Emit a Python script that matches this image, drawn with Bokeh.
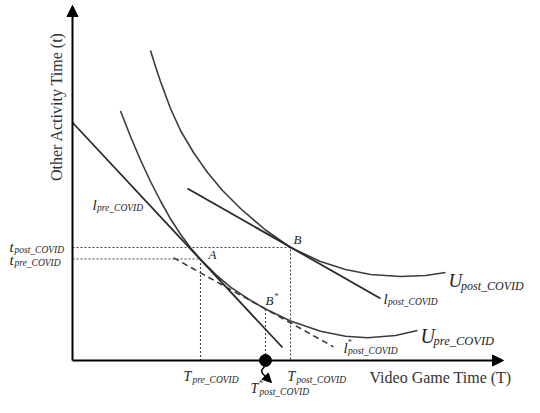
from bokeh.plotting import figure
from bokeh.models import Range1d, Arrow, NormalHead, ColumnDataSource
from bokeh.core.properties import value
from bokeh.embed import file_html
from bokeh.resources import INLINE
import math

# ---- data (T = video game time, t = other activity time) ----
# Indifference curve before COVID
u_pre_T = [48, 58, 68, 78, 88, 98, 108, 118, 128, 143, 158, 178, 193, 218, 248, 273, 295, 323, 345]
u_pre_t = [249.5, 224, 200.5, 179, 159.5, 141.7, 126.2, 112.7, 101.2, 86.2, 73.4, 60.2, 51.5, 39.5, 29.3, 24.3, 22.8, 25, 30]
# Indifference curve after COVID
u_post_T = [78, 83, 88, 98, 108, 121, 135, 150, 168, 193, 218, 248, 273, 298, 328, 353, 373]
u_post_t = [310, 294, 279, 252, 230, 208, 188, 170, 152, 130.5, 113, 99, 91, 86, 84, 85, 88]
# Budget lines
l_pre_T = [0, 210]
l_pre_t = [238, 13]
l_post_T = [115, 308]
l_post_t = [172, 62]
l_star_T = [101, 261]
l_star_t = [102.7, 13.7]
# Equilibrium points
pt_names = ["A", "B", "B"]
pt_T = [128, 218, 193]
pt_t = [101.5, 113, 51.5]
# squiggle pointer below T*_post
sq_T = [192, 189, 190, 193]
sq_t = [-6, -10, -13, -16]
sq_tip = (199, -22)

SERIF = value("Liberation Serif")

p = figure(width=524, height=397, output_backend="svg", toolbar_location=None,
           x_range=Range1d(-72, 452), y_range=Range1d(-37, 360),
           x_axis_location=None, y_axis_location=None, min_border=0)
p.outline_line_color = None
p.xgrid.visible = False
p.ygrid.visible = False
p.background_fill_color = "white"

# dotted guide lines
dot = dict(line_color="#444444", line_width=1.1, line_dash="2 2")
p.line([0, pt_T[1], pt_T[1]], [pt_t[1], pt_t[1], 0], **dot)
p.line([0, pt_T[0], pt_T[0]], [pt_t[0], pt_t[0], 0], **dot)
p.line([pt_T[2], pt_T[2]], [pt_t[2], 0], **dot)

# curves
p.line(u_pre_T, u_pre_t, line_color="#3c3c3c", line_width=1.6)
p.line(u_post_T, u_post_t, line_color="#3c3c3c", line_width=1.6)
p.line(l_pre_T, l_pre_t, line_color="#2a2a2a", line_width=1.8)
p.line(l_post_T, l_post_t, line_color="#2a2a2a", line_width=1.8)
p.line(l_star_T, l_star_t, line_color="#333333", line_width=1.5, line_dash="6 4")

# axes with arrow heads
p.add_layout(Arrow(end=NormalHead(size=11, fill_color="black", line_color="black"),
                   x_start=0, y_start=0, x_end=0, y_end=355, line_width=2, line_color="black"))
p.add_layout(Arrow(end=NormalHead(size=11, fill_color="black", line_color="black"),
                   x_start=0, y_start=0, x_end=431, y_end=0, line_width=2, line_color="black"))

# dot at T*_post and squiggle pointer
p.scatter([pt_T[2]], [0], size=12, color="black")
p.line(sq_T, sq_t, line_color="black", line_width=1.4)
p.add_layout(Arrow(end=NormalHead(size=9, fill_color="black", line_color="black"),
                   x_start=sq_T[-1], y_start=sq_t[-1], x_end=sq_tip[0], y_end=sq_tip[1],
                   line_width=1.4, line_color="black"))

# axis titles
p.text([-16], [254], text=["Other Activity Time (t)"], angle=math.pi / 2,
       text_font=SERIF, text_font_size="16px", text_align="center", text_baseline="middle",
       text_color="#333333")
p.text([297], [-17], text=["Video Game Time (T)"], text_font=SERIF, text_font_size="16px",
       text_align="left", text_baseline="middle", text_color="#333333")

# math labels: main letter, subscript, star
main_txt = ["t", "t", "l", "l", "l", "U", "U", "T", "T", "T"]
sub_txt = ["post_COVID", "pre_COVID", "pre_COVID", "post_COVID", "post_COVID",
           "post_COVID", "pre_COVID", "pre_COVID", "post_COVID", "post_COVID"]
has_star = [False, False, False, False, True, False, False, False, False, True]
lab_T = [-63, -63, 20, 311, 271, 376, 348, 111, 215, 178]
lab_t = [114, 101, 156, 62, 13, 80, 25, -16, -16, -28]
main_size = ["15px", "15px", "15px", "15px", "15px", "19px", "20px", "14px", "14px", "14px"]
sub_size = ["9.5px", "9.5px", "9.5px", "9.5px", "9.5px", "12px", "12.5px", "9.5px", "9.5px", "9.5px"]
sub_dx = [5, 5, 4.5, 4.5, 4.5, 12.5, 13, 9, 9, 9]
sub_dy = [3, 3, 3, 3, 3, 5, 5, 3, 3, 3]

src_main = ColumnDataSource(dict(x=lab_T, y=lab_t, text=main_txt, fs=main_size))
p.text("x", "y", text="text", source=src_main, text_font=SERIF, text_font_style="italic",
       text_font_size="fs", text_align="left", text_baseline="middle", text_color="#1e1e1e")
src_sub = ColumnDataSource(dict(x=lab_T, y=lab_t, text=sub_txt, fs=sub_size, dx=sub_dx, dy=sub_dy))
p.text("x", "y", text="text", source=src_sub, text_font=SERIF, text_font_style="italic",
       text_font_size="fs", x_offset="dx", y_offset="dy", text_align="left",
       text_baseline="middle", text_color="#1e1e1e")
star_T = [lab_T[i] for i in range(len(lab_T)) if has_star[i]]
star_t = [lab_t[i] for i in range(len(lab_t)) if has_star[i]]
star_dx = [4, 8]
p.text(star_T, star_t, text=["*"] * len(star_T), text_font=SERIF, text_font_style="italic",
       text_font_size="8px", x_offset=star_dx, y_offset=[-5, -5], text_align="left",
       text_baseline="middle", text_color="#1e1e1e")

# point labels A, B, B*
p.text([pt_T[0], pt_T[1], pt_T[2]], [pt_t[0], pt_t[1], pt_t[2]], text=pt_names,
       x_offset=[8, 3, 0], y_offset=[-5, -8, -9], text_font=SERIF, text_font_style="italic",
       text_font_size="13px", text_align="left", text_baseline="middle", text_color="#1e1e1e")
p.text([pt_T[2]], [pt_t[2]], text=["*"], x_offset=[9], y_offset=[-13], text_font=SERIF,
       text_font_size="8px", text_align="left", text_baseline="middle", text_color="#1e1e1e")

open("out.html", "w").write(file_html(p, INLINE))
